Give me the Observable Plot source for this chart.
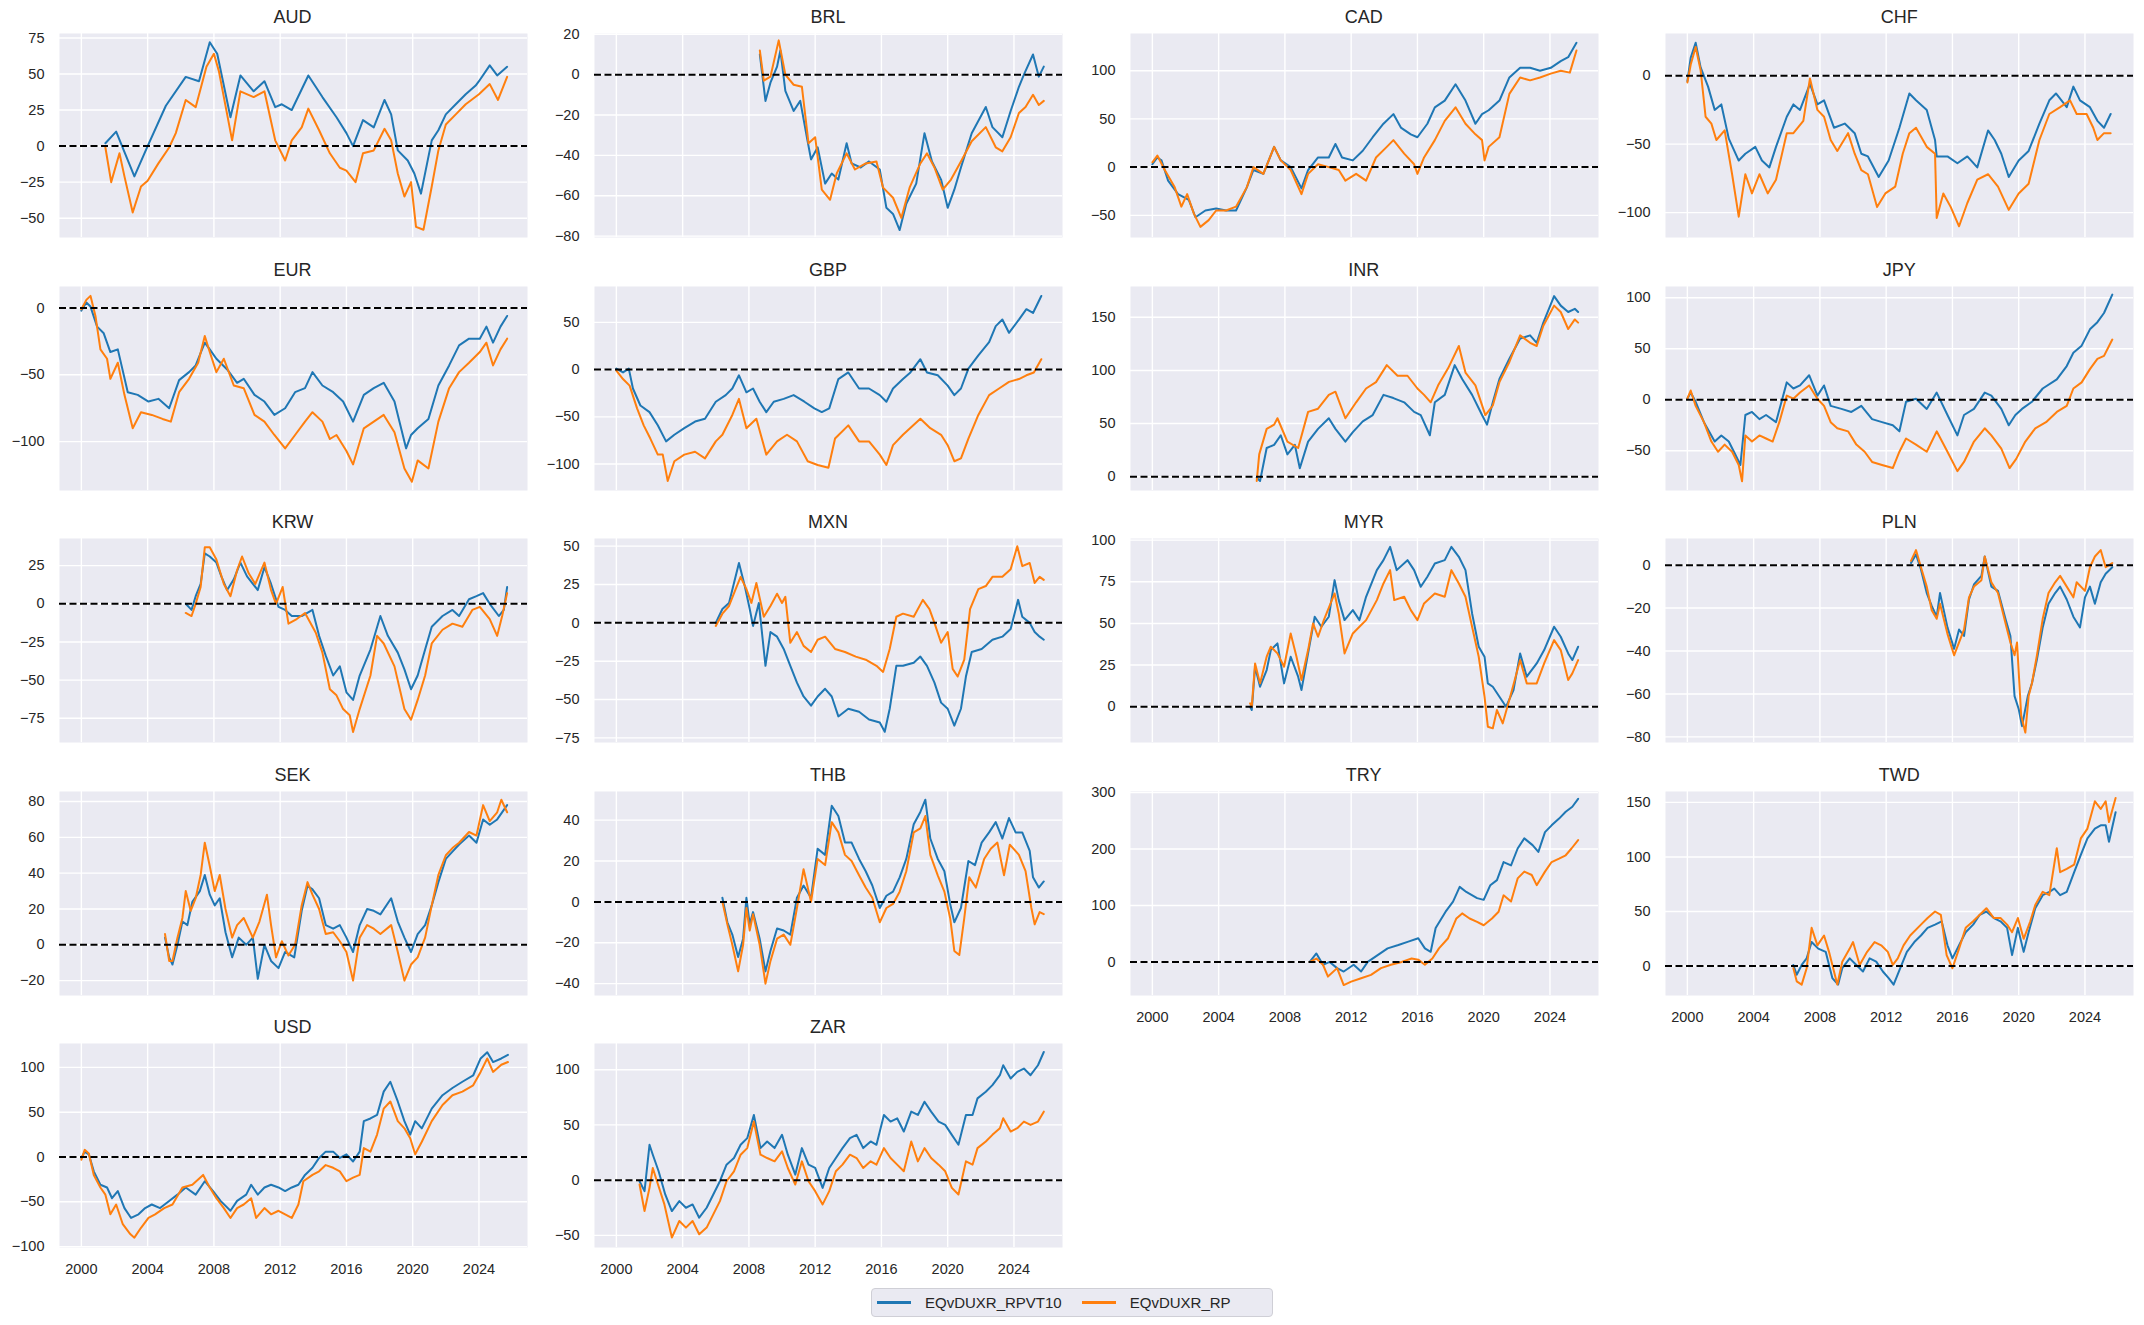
<!DOCTYPE html>
<html><head><meta charset="utf-8">
<script src="https://cdn.jsdelivr.net/npm/d3@7"></script>
<script src="https://cdn.jsdelivr.net/npm/@observablehq/plot@0.6"></script>
<style>
body{margin:0;background:#fff;font-family:"Liberation Sans",Arial,sans-serif;}
#fig{position:relative;width:2144px;height:1325px;overflow:hidden;}
.panel{position:absolute;}
.ttl{position:absolute;font-size:18px;color:#262626;text-align:center;height:22px;line-height:22px;}
#legend{position:absolute;display:flex;align-items:center;box-sizing:border-box;border:1px solid #cfcfd6;border-radius:4px;background:#EAEAF2;font-size:15px;color:#262626;}
#legend .item{display:flex;align-items:center;}
#legend .sw{display:inline-block;height:2.5px;}
</style></head><body><div id="fig"></div><script>
// ---------- data (decimal year, value) ----------
const CURRENCIES = ["AUD","BRL","CAD","CHF","EUR","GBP","INR","JPY","KRW","MXN","MYR","PLN","SEK","THB","TRY","TWD","USD","ZAR"];
const SERIES_NAMES = ["EQvDUXR_RPVT10","EQvDUXR_RP"];
const SERIES_COLORS = ["#1f77b4","#ff7f0e"];
const X_TICKS = [2000,2004,2008,2012,2016,2020,2024];
const X_DOMAIN = [1998.68, 2026.93];
const X_LABELLED = ["TRY","TWD","USD","ZAR"];

const AUD_RPVT10 = [[2001.45,2],[2002.1,10],[2003.2,-21],[2004.0,0],[2005.1,28],[2006.3,48],[2007.1,45],[2007.75,72],[2008.2,64],[2009.0,20],[2009.6,49],[2010.4,38],[2011.05,45],[2011.7,27],[2012.1,29],[2012.7,25],[2013.7,49],[2014.55,34],[2015.4,20],[2016.0,9],[2016.4,0],[2017.0,18],[2017.65,13],[2018.3,32],[2018.7,22],[2019.1,-3],[2019.7,-10],[2020.1,-19],[2020.5,-33],[2021.15,4],[2021.55,11],[2022.0,22],[2022.6,29],[2023.2,36],[2023.8,42],[2024.0,45],[2024.65,56],[2025.1,49],[2025.7,55]];
const AUD_RP = [[2001.45,-1],[2001.8,-25],[2002.3,-5],[2002.6,-21],[2003.1,-46],[2003.6,-28],[2004.0,-24],[2004.65,-12],[2005.3,-1],[2005.7,9],[2006.3,32],[2006.9,27],[2007.55,55],[2008.0,64],[2008.3,52],[2009.1,4],[2009.6,38],[2010.4,34],[2011.05,38],[2011.7,4],[2012.3,-10],[2012.7,4],[2013.3,13],[2013.7,26],[2014.35,11],[2015.0,-5],[2015.6,-15],[2016.0,-17],[2016.55,-25],[2017.0,-5],[2017.65,-3],[2018.3,12],[2018.7,4],[2019.1,-19],[2019.5,-35],[2019.9,-25],[2020.2,-56],[2020.65,-58],[2021.15,-28],[2021.55,-3],[2022.0,15],[2022.6,22],[2023.2,29],[2024.0,36],[2024.65,43],[2025.15,32],[2025.7,48]];

const BRL_RPVT10 = [[2008.66,10],[2009.0,-13],[2009.3,-4],[2009.7,4],[2009.9,12],[2010.2,-8],[2010.7,-18],[2011.1,-13],[2011.5,-31],[2011.75,-42],[2012.15,-36],[2012.6,-54],[2013.0,-49],[2013.4,-52],[2013.9,-34],[2014.2,-44],[2014.75,-46],[2015.25,-43],[2015.9,-47],[2016.3,-66],[2016.7,-69],[2017.1,-77],[2017.5,-64],[2018.1,-54],[2018.6,-29],[2019.05,-43],[2019.6,-52],[2020.0,-66],[2020.4,-57],[2020.8,-46],[2021.45,-29],[2022.3,-16],[2022.7,-26],[2023.3,-31],[2023.8,-18],[2024.3,-6],[2024.6,0],[2025.15,10],[2025.5,-1],[2025.8,4]];
const BRL_RP = [[2008.66,12],[2008.9,-3],[2009.3,-1],[2009.8,17],[2010.2,0],[2010.7,-5],[2011.2,-6],[2011.6,-34],[2012.0,-31],[2012.4,-57],[2012.9,-62],[2013.3,-49],[2013.9,-39],[2014.4,-47],[2015.05,-44],[2015.7,-43],[2016.1,-56],[2016.7,-61],[2017.2,-71],[2017.7,-56],[2018.35,-44],[2018.75,-39],[2019.2,-46],[2019.7,-57],[2020.2,-52],[2020.8,-43],[2021.45,-33],[2022.3,-26],[2022.9,-36],[2023.3,-38],[2023.8,-31],[2024.3,-19],[2024.7,-16],[2025.15,-10],[2025.5,-15],[2025.8,-13]];

const CAD_RPVT10 = [[2000.0,3],[2000.3,10],[2000.55,7],[2000.95,-14],[2001.55,-28],[2002.2,-34],[2002.6,-52],[2003.2,-45],[2003.85,-43],[2004.45,-45],[2005.05,-45],[2005.7,-21],[2006.1,-3],[2006.7,-7],[2007.35,21],[2007.75,7],[2008.35,0],[2009.0,-22],[2009.4,-3],[2010.0,10],[2010.65,10],[2011.05,24],[2011.45,10],[2012.1,7],[2012.7,17],[2013.3,31],[2013.95,45],[2014.55,55],[2015.0,41],[2015.6,34],[2016.0,31],[2016.6,45],[2017.05,62],[2017.65,69],[2018.3,86],[2018.9,69],[2019.5,45],[2019.9,55],[2020.3,59],[2020.95,69],[2021.55,93],[2022.2,103],[2022.8,103],[2023.4,100],[2024.05,103],[2024.65,110],[2025.1,114],[2025.6,129]];
const CAD_RP = [[2000.0,5],[2000.3,12],[2000.75,-3],[2001.35,-21],[2001.75,-41],[2002.1,-28],[2002.5,-48],[2002.9,-62],[2003.4,-55],[2003.85,-45],[2004.45,-45],[2005.05,-41],[2005.7,-21],[2006.1,0],[2006.7,-7],[2007.35,21],[2007.75,7],[2008.35,-3],[2009.0,-28],[2009.4,-7],[2010.0,3],[2010.65,0],[2011.25,-3],[2011.65,-14],[2012.3,-7],[2012.9,-14],[2013.5,10],[2014.15,21],[2014.55,28],[2015.2,14],[2015.8,3],[2016.0,-7],[2016.4,10],[2017.05,28],[2017.65,48],[2018.3,62],[2018.9,45],[2019.5,34],[2019.9,28],[2020.05,7],[2020.3,21],[2020.95,31],[2021.55,76],[2022.2,93],[2022.8,90],[2023.4,93],[2024.05,97],[2024.65,100],[2025.2,98],[2025.6,121]];

const CHF_RPVT10 = [[2000.0,-4],[2000.2,13],[2000.5,24],[2000.8,6],[2001.25,-8],[2001.65,-25],[2002.05,-21],[2002.5,-46],[2003.1,-62],[2003.5,-57],[2004.1,-52],[2004.5,-62],[2004.95,-67],[2005.35,-52],[2006.0,-30],[2006.4,-21],[2006.8,-25],[2007.4,-6],[2007.85,-21],[2008.25,-18],[2008.85,-38],[2009.5,-35],[2010.1,-42],[2010.5,-57],[2010.9,-59],[2011.55,-74],[2012.15,-62],[2012.8,-38],[2013.4,-13],[2013.8,-18],[2014.45,-25],[2014.95,-47],[2015.05,-59],[2015.7,-59],[2016.3,-64],[2016.9,-59],[2017.5,-67],[2018.15,-40],[2018.55,-47],[2018.95,-57],[2019.4,-74],[2020.0,-62],[2020.6,-55],[2021.25,-35],[2021.85,-18],[2022.25,-13],[2022.9,-23],[2023.3,-8],[2023.7,-18],[2024.3,-23],[2024.75,-33],[2025.15,-38],[2025.55,-28]];
const CHF_RP = [[2000.0,-5],[2000.2,8],[2000.5,21],[2000.8,4],[2001.1,-30],[2001.45,-35],[2001.75,-47],[2002.25,-40],[2002.7,-72],[2003.1,-103],[2003.5,-72],[2003.9,-86],[2004.35,-72],[2004.85,-86],[2005.35,-76],[2006.0,-42],[2006.4,-42],[2007.0,-33],[2007.4,-2],[2007.85,-25],[2008.25,-30],[2008.65,-47],[2009.05,-55],[2009.7,-42],[2010.1,-57],[2010.5,-69],[2010.9,-72],[2011.45,-96],[2011.95,-86],[2012.55,-81],[2013.0,-57],[2013.4,-42],[2013.8,-38],[2014.45,-52],[2014.95,-57],[2015.05,-104],[2015.45,-86],[2015.9,-96],[2016.4,-110],[2016.9,-93],[2017.5,-76],[2018.15,-72],[2018.75,-81],[2019.4,-98],[2020.0,-86],[2020.6,-79],[2021.25,-47],[2021.85,-28],[2022.5,-23],[2023.1,-18],[2023.5,-28],[2024.1,-28],[2024.5,-38],[2024.75,-47],[2025.15,-42],[2025.55,-42]];

const EUR_RPVT10 = [[2000.0,-2],[2000.3,4],[2000.55,1],[2000.95,-14],[2001.35,-19],[2001.75,-33],[2002.2,-31],[2002.8,-63],[2003.4,-65],[2004.05,-70],[2004.65,-68],[2005.3,-75],[2005.9,-54],[2006.5,-48],[2006.9,-43],[2007.45,-26],[2007.75,-31],[2008.15,-38],[2008.8,-46],[2009.4,-56],[2009.8,-53],[2010.45,-65],[2011.05,-70],[2011.65,-80],[2012.3,-75],[2012.9,-63],[2013.5,-60],[2013.95,-48],[2014.55,-58],[2015.2,-63],[2015.8,-70],[2016.4,-85],[2017.05,-65],[2017.65,-60],[2018.25,-56],[2018.9,-70],[2019.6,-105],[2019.9,-95],[2020.3,-90],[2020.95,-83],[2021.55,-58],[2022.2,-43],[2022.8,-28],[2023.4,-23],[2024.05,-23],[2024.45,-14],[2024.85,-26],[2025.3,-14],[2025.7,-6]];
const EUR_RP = [[2000.0,-1],[2000.3,6],[2000.55,9],[2000.85,-6],[2001.15,-31],[2001.55,-38],[2001.75,-53],[2002.2,-41],[2002.6,-65],[2003.1,-90],[2003.6,-78],[2004.25,-80],[2004.9,-83],[2005.4,-85],[2005.9,-63],[2006.5,-53],[2007.05,-41],[2007.45,-21],[2007.75,-33],[2008.15,-48],[2008.6,-38],[2009.2,-58],[2009.8,-60],[2010.45,-80],[2011.05,-85],[2011.65,-95],[2012.3,-105],[2012.9,-95],[2013.5,-85],[2013.95,-78],[2014.55,-85],[2015.0,-98],[2015.4,-95],[2016.0,-107],[2016.4,-117],[2017.05,-90],[2017.65,-85],[2018.25,-80],[2018.9,-93],[2019.5,-120],[2019.95,-130],[2020.3,-114],[2020.95,-120],[2021.55,-85],[2022.2,-60],[2022.8,-48],[2023.4,-41],[2024.05,-33],[2024.45,-26],[2024.85,-43],[2025.3,-31],[2025.7,-23]];

const GBP_RPVT10 = [[2000.0,1],[2000.4,-3],[2000.75,1],[2001.0,-20],[2001.45,-38],[2002.0,-45],[2002.5,-59],[2003.0,-76],[2003.5,-69],[2004.1,-62],[2004.75,-55],[2005.35,-52],[2006.0,-34],[2006.6,-27],[2007.0,-20],[2007.4,-6],[2007.85,-24],[2008.25,-20],[2008.65,-34],[2009.05,-45],[2009.5,-34],[2010.1,-31],[2010.7,-27],[2011.35,-34],[2011.95,-41],[2012.4,-45],[2012.85,-41],[2013.4,-10],[2014.0,-3],[2014.65,-20],[2015.25,-20],[2015.9,-27],[2016.3,-34],[2016.7,-20],[2017.3,-10],[2017.75,-3],[2018.35,11],[2018.75,-3],[2019.4,-6],[2020.0,-17],[2020.4,-27],[2020.8,-20],[2021.25,1],[2021.85,15],[2022.5,29],[2022.9,46],[2023.3,53],[2023.7,39],[2024.3,53],[2024.75,64],[2025.15,60],[2025.65,78]];
const GBP_RP = [[2000.0,-1],[2000.4,-10],[2000.8,-17],[2001.25,-41],[2001.65,-59],[2002.05,-73],[2002.5,-90],[2002.8,-90],[2003.1,-118],[2003.5,-97],[2004.1,-90],[2004.75,-87],[2005.35,-94],[2006.0,-76],[2006.4,-69],[2007.0,-48],[2007.4,-31],[2007.85,-62],[2008.45,-52],[2009.05,-90],[2009.7,-76],[2010.3,-69],[2010.9,-76],[2011.55,-97],[2012.15,-101],[2012.8,-104],[2013.2,-73],[2014.0,-59],[2014.65,-76],[2015.25,-76],[2015.9,-90],[2016.3,-101],[2016.7,-80],[2017.3,-69],[2018.35,-52],[2018.95,-62],[2019.6,-69],[2020.0,-80],[2020.4,-97],[2020.8,-94],[2021.25,-73],[2021.85,-48],[2022.5,-27],[2023.1,-20],[2023.7,-13],[2024.3,-10],[2024.75,-6],[2025.2,-3],[2025.65,11]];

const INR_RPVT10 = [[2006.3,-1],[2006.5,-4],[2006.9,27],[2007.35,30],[2007.75,39],[2008.15,21],[2008.6,30],[2008.9,8],[2009.4,33],[2010.0,45],[2010.65,55],[2011.05,45],[2011.65,33],[2012.1,42],[2012.7,52],[2013.3,58],[2013.95,77],[2014.55,74],[2015.2,70],[2015.8,61],[2016.2,58],[2016.75,39],[2017.05,70],[2017.65,77],[2018.25,105],[2018.7,92],[2019.3,77],[2019.9,58],[2020.2,49],[2020.55,70],[2020.95,92],[2021.55,111],[2022.2,130],[2022.8,133],[2023.2,126],[2023.6,145],[2024.25,170],[2024.65,161],[2025.1,155],[2025.5,158],[2025.7,155]];
const INR_RP = [[2006.3,-4],[2006.45,21],[2006.9,45],[2007.35,49],[2007.55,55],[2008.15,33],[2008.8,27],[2009.4,61],[2010.0,64],[2010.65,77],[2011.05,80],[2011.65,55],[2012.3,70],[2012.9,83],[2013.5,89],[2014.15,105],[2014.8,95],[2015.4,95],[2016.0,83],[2016.4,77],[2016.8,70],[2017.25,86],[2017.85,102],[2018.5,123],[2018.9,98],[2019.5,86],[2020.1,58],[2020.55,67],[2020.95,89],[2021.55,108],[2022.2,133],[2022.8,126],[2023.2,123],[2023.6,142],[2024.25,161],[2024.65,155],[2025.1,139],[2025.5,148],[2025.7,145]];

const JPY_RPVT10 = [[2000.0,1],[2000.2,7],[2000.5,-2],[2001.0,-22],[2001.65,-41],[2002.05,-35],[2002.5,-41],[2002.9,-54],[2003.2,-64],[2003.5,-15],[2003.9,-12],[2004.35,-19],[2004.75,-15],[2005.35,-22],[2006.0,17],[2006.4,11],[2006.8,14],[2007.35,24],[2007.85,4],[2008.25,14],[2008.65,-6],[2009.3,-9],[2009.9,-12],[2010.5,-6],[2011.15,-19],[2011.75,-22],[2012.4,-25],[2012.8,-31],[2013.2,-2],[2013.8,1],[2014.45,-9],[2015.05,7],[2015.7,-15],[2016.3,-35],[2016.7,-15],[2017.3,-9],[2017.95,7],[2018.35,4],[2018.95,-9],[2019.4,-25],[2019.8,-15],[2020.2,-9],[2020.8,-2],[2021.45,11],[2022.3,20],[2022.9,33],[2023.3,46],[2023.8,53],[2024.3,69],[2024.75,76],[2025.15,85],[2025.65,103]];
const JPY_RP = [[2000.0,1],[2000.2,9],[2000.5,-6],[2001.0,-22],[2001.45,-41],[2001.85,-51],[2002.25,-44],[2002.7,-51],[2003.1,-64],[2003.3,-80],[2003.5,-35],[2003.9,-41],[2004.35,-35],[2004.75,-38],[2005.15,-41],[2005.55,-22],[2006.0,4],[2006.4,1],[2006.8,7],[2007.35,14],[2007.85,1],[2008.25,-6],[2008.65,-22],[2009.05,-28],[2009.7,-31],[2010.2,-44],[2010.7,-51],[2011.15,-61],[2011.75,-64],[2012.4,-67],[2012.8,-51],[2013.2,-38],[2013.8,-44],[2014.45,-51],[2015.05,-31],[2015.7,-51],[2016.3,-70],[2016.7,-61],[2017.3,-41],[2017.95,-28],[2018.35,-35],[2018.95,-48],[2019.45,-67],[2019.85,-58],[2020.4,-41],[2021.0,-28],[2021.65,-22],[2022.3,-12],[2022.9,-6],[2023.3,11],[2023.8,17],[2024.3,30],[2024.75,40],[2025.15,43],[2025.65,59]];

const KRW_RPVT10 = [[2006.3,0],[2006.65,-4],[2006.9,5],[2007.2,13],[2007.45,33],[2007.75,31],[2008.15,27],[2008.45,18],[2008.8,9],[2009.2,16],[2009.6,27],[2010.0,18],[2010.65,9],[2011.05,24],[2011.45,13],[2011.9,-2],[2012.3,-4],[2012.7,-8],[2013.3,-8],[2013.95,-4],[2014.35,-21],[2014.75,-34],[2015.2,-47],[2015.6,-41],[2016.0,-58],[2016.4,-63],[2016.8,-47],[2017.45,-30],[2018.05,-8],[2018.5,-21],[2019.1,-32],[2019.5,-43],[2019.9,-56],[2020.3,-47],[2020.75,-30],[2021.15,-15],[2021.8,-8],[2022.4,-4],[2022.8,-8],[2023.4,3],[2023.85,5],[2024.25,7],[2024.65,0],[2025.2,-8],[2025.5,-4],[2025.7,11]];
const KRW_RP = [[2006.3,-6],[2006.65,-8],[2006.9,0],[2007.2,11],[2007.45,37],[2007.75,37],[2008.15,29],[2008.6,13],[2009.0,5],[2009.4,22],[2009.7,31],[2010.1,20],[2010.5,13],[2011.05,27],[2011.45,9],[2011.75,0],[2012.15,11],[2012.5,-13],[2013.0,-10],[2013.5,-6],[2014.15,-19],[2014.55,-32],[2015.0,-56],[2015.4,-60],[2015.8,-69],[2016.2,-73],[2016.4,-84],[2016.8,-69],[2017.45,-47],[2017.85,-21],[2018.25,-26],[2018.9,-41],[2019.5,-69],[2019.9,-76],[2020.3,-63],[2020.75,-47],[2021.15,-26],[2021.8,-17],[2022.4,-13],[2023.0,-15],[2023.6,-4],[2024.05,-2],[2024.65,-10],[2025.1,-21],[2025.4,-8],[2025.7,7]];

const MXN_RPVT10 = [[2006.0,0],[2006.4,9],[2006.8,13],[2007.1,26],[2007.4,39],[2007.75,24],[2008.05,9],[2008.25,-2],[2008.6,13],[2009.0,-28],[2009.3,-6],[2009.7,-9],[2010.1,-17],[2010.5,-28],[2010.9,-39],[2011.3,-48],[2011.75,-54],[2012.15,-48],[2012.6,-43],[2013.0,-48],[2013.4,-61],[2014.0,-56],[2014.65,-58],[2015.25,-63],[2015.9,-65],[2016.2,-71],[2016.5,-56],[2016.9,-28],[2017.3,-28],[2017.95,-26],[2018.35,-22],[2018.75,-28],[2019.2,-39],[2019.6,-52],[2020.0,-56],[2020.4,-67],[2020.8,-56],[2021.1,-35],[2021.45,-19],[2022.05,-17],[2022.7,-11],[2023.3,-9],[2023.8,-4],[2024.25,15],[2024.5,4],[2024.95,0],[2025.25,-6],[2025.55,-9],[2025.8,-11]];
const MXN_RP = [[2006.0,-2],[2006.4,6],[2006.8,11],[2007.2,22],[2007.5,30],[2007.85,22],[2008.15,13],[2008.45,26],[2008.9,4],[2009.3,11],[2009.7,19],[2010.0,13],[2010.2,17],[2010.5,-13],[2010.9,-6],[2011.3,-15],[2011.75,-19],[2012.15,-11],[2012.6,-9],[2013.2,-17],[2013.8,-19],[2014.45,-22],[2015.05,-24],[2015.7,-28],[2016.1,-32],[2016.5,-17],[2016.9,4],[2017.3,6],[2017.95,4],[2018.5,15],[2018.9,9],[2019.2,0],[2019.6,-13],[2020.0,-6],[2020.3,-30],[2020.6,-35],[2021.0,-24],[2021.35,9],[2021.85,22],[2022.3,24],[2022.7,30],[2023.3,30],[2023.8,35],[2024.2,50],[2024.5,37],[2024.95,39],[2025.25,26],[2025.55,30],[2025.8,28]];

const MYR_RPVT10 = [[2005.9,0],[2006.0,-2],[2006.2,24],[2006.5,12],[2006.9,22],[2007.15,34],[2007.55,38],[2007.95,14],[2008.35,30],[2008.8,18],[2009.0,10],[2009.4,32],[2009.8,54],[2010.2,48],[2010.65,54],[2011.0,76],[2011.25,64],[2011.6,52],[2012.1,58],[2012.5,52],[2012.9,66],[2013.55,82],[2013.95,88],[2014.35,96],[2014.75,82],[2015.4,88],[2015.8,82],[2016.2,72],[2016.6,78],[2017.05,86],[2017.65,88],[2018.05,96],[2018.5,90],[2018.9,82],[2019.3,56],[2019.7,36],[2020.05,30],[2020.25,14],[2020.55,12],[2020.95,6],[2021.35,0],[2021.8,10],[2022.2,32],[2022.6,18],[2023.2,26],[2023.65,34],[2024.25,48],[2024.65,42],[2025.1,32],[2025.35,28],[2025.7,36]];
const MYR_RP = [[2005.9,2],[2006.0,0],[2006.2,26],[2006.5,14],[2006.9,30],[2007.15,36],[2007.55,32],[2007.95,24],[2008.35,44],[2008.7,30],[2009.0,16],[2009.4,34],[2009.7,50],[2010.0,42],[2010.35,52],[2011.0,68],[2011.25,56],[2011.6,32],[2012.1,44],[2012.5,48],[2012.9,52],[2013.55,64],[2013.95,74],[2014.35,82],[2014.6,64],[2015.2,66],[2015.6,58],[2016.0,52],[2016.4,62],[2017.05,68],[2017.65,66],[2018.05,82],[2018.5,74],[2018.9,66],[2019.3,48],[2019.7,30],[2020.05,6],[2020.25,-12],[2020.55,-13],[2020.8,-2],[2021.15,-10],[2021.6,6],[2022.2,28],[2022.6,14],[2023.2,14],[2023.65,26],[2024.25,40],[2024.65,34],[2025.1,16],[2025.35,20],[2025.7,28]];

const PLN_RPVT10 = [[2013.5,1],[2013.8,5],[2014.1,-2],[2014.45,-13],[2014.75,-19],[2015.05,-24],[2015.25,-13],[2015.7,-29],[2016.1,-39],[2016.4,-30],[2016.7,-33],[2017.0,-16],[2017.3,-9],[2017.75,-5],[2017.95,4],[2018.35,-10],[2018.75,-12],[2019.2,-25],[2019.5,-33],[2019.75,-61],[2020.0,-67],[2020.2,-75],[2020.55,-61],[2020.8,-55],[2021.1,-44],[2021.45,-29],[2021.8,-18],[2022.2,-13],[2022.5,-10],[2022.9,-16],[2023.3,-24],[2023.7,-29],[2024.0,-15],[2024.3,-10],[2024.6,-18],[2024.95,-8],[2025.25,-4],[2025.65,-1]];
const PLN_RP = [[2013.5,2],[2013.8,7],[2014.1,-1],[2014.45,-10],[2014.75,-21],[2015.05,-25],[2015.25,-18],[2015.7,-32],[2016.1,-42],[2016.4,-36],[2016.7,-30],[2017.0,-15],[2017.3,-10],[2017.75,-7],[2017.95,4],[2018.35,-8],[2018.75,-13],[2019.2,-27],[2019.5,-36],[2019.75,-42],[2019.9,-36],[2020.15,-70],[2020.4,-78],[2020.6,-61],[2020.8,-55],[2021.1,-42],[2021.45,-25],[2021.8,-13],[2022.2,-8],[2022.5,-5],[2022.9,-10],[2023.3,-15],[2023.5,-8],[2024.0,-12],[2024.3,-1],[2024.6,4],[2024.95,7],[2025.25,-1],[2025.65,1]];

const SEK_RPVT10 = [[2005.05,4],[2005.3,-7],[2005.5,-11],[2005.8,0],[2006.1,13],[2006.4,11],[2006.7,24],[2007.15,30],[2007.45,39],[2007.75,28],[2008.05,22],[2008.35,26],[2008.7,7],[2009.1,-7],[2009.5,4],[2009.95,0],[2010.35,4],[2010.65,-19],[2011.05,0],[2011.45,-9],[2011.9,-13],[2012.3,-4],[2012.85,-7],[2013.3,19],[2013.65,33],[2013.95,31],[2014.35,26],[2014.75,11],[2015.2,9],[2015.6,11],[2016.0,4],[2016.4,-4],[2016.8,11],[2017.25,20],[2017.65,19],[2018.05,17],[2018.7,26],[2019.1,13],[2019.5,4],[2019.9,-4],[2020.3,6],[2020.75,11],[2021.15,22],[2021.55,35],[2022.0,48],[2022.4,52],[2022.8,56],[2023.4,61],[2023.85,57],[2024.25,70],[2024.65,67],[2025.1,70],[2025.7,78]];
const SEK_RP = [[2005.05,6],[2005.3,-9],[2005.5,-9],[2005.8,4],[2006.1,15],[2006.3,30],[2006.6,19],[2006.9,26],[2007.2,39],[2007.45,57],[2007.75,44],[2008.05,30],[2008.35,39],[2008.7,20],[2009.1,4],[2009.4,11],[2009.8,15],[2010.35,4],[2010.75,13],[2011.2,28],[2011.45,11],[2011.75,-7],[2012.1,2],[2012.5,-6],[2012.9,0],[2013.3,22],[2013.65,35],[2013.95,28],[2014.35,20],[2014.75,6],[2015.2,7],[2015.6,2],[2016.0,-4],[2016.4,-20],[2016.8,4],[2017.25,11],[2017.65,9],[2018.05,6],[2018.7,11],[2019.1,-4],[2019.5,-20],[2019.9,-11],[2020.3,-7],[2020.75,4],[2021.15,22],[2021.55,39],[2022.0,50],[2022.4,54],[2022.8,57],[2023.4,63],[2023.85,61],[2024.25,78],[2024.65,69],[2025.1,74],[2025.35,81],[2025.7,74]];

const THB_RPVT10 = [[2006.4,2],[2006.7,-10],[2007.0,-16],[2007.35,-27],[2007.65,-18],[2007.85,2],[2008.05,-11],[2008.25,-5],[2008.65,-18],[2009.0,-34],[2009.3,-24],[2009.7,-13],[2010.1,-14],[2010.5,-16],[2010.9,2],[2011.3,8],[2011.75,2],[2012.15,26],[2012.6,23],[2013.0,47],[2013.4,42],[2013.8,29],[2014.2,29],[2014.65,21],[2015.05,15],[2015.45,8],[2015.9,-3],[2016.3,3],[2016.7,5],[2017.1,12],[2017.5,21],[2017.95,38],[2018.35,44],[2018.65,50],[2018.95,31],[2019.4,21],[2019.8,15],[2020.15,-1],[2020.4,-10],[2020.8,-3],[2021.25,20],[2021.65,18],[2022.05,29],[2022.5,34],[2022.9,39],[2023.3,31],[2023.7,41],[2024.1,34],[2024.5,34],[2024.95,25],[2025.15,12],[2025.5,7],[2025.8,10]];
const THB_RP = [[2006.4,0],[2006.7,-11],[2007.0,-21],[2007.35,-34],[2007.65,-21],[2007.85,-3],[2008.05,-14],[2008.25,-6],[2008.65,-21],[2009.0,-40],[2009.3,-29],[2009.7,-18],[2010.1,-16],[2010.5,-21],[2010.9,-3],[2011.3,16],[2011.75,0],[2012.15,21],[2012.6,18],[2013.0,39],[2013.4,34],[2013.8,23],[2014.2,20],[2014.65,13],[2015.05,7],[2015.45,2],[2015.9,-10],[2016.3,-3],[2016.7,-1],[2017.1,5],[2017.5,15],[2017.95,34],[2018.35,36],[2018.65,42],[2018.95,23],[2019.4,13],[2019.8,5],[2020.15,-8],[2020.4,-24],[2020.7,-26],[2021.0,-8],[2021.3,12],[2021.7,7],[2022.2,21],[2022.6,26],[2023.0,29],[2023.4,13],[2023.75,28],[2024.3,23],[2024.7,15],[2025.05,-3],[2025.25,-11],[2025.55,-5],[2025.8,-6]];

const TRY_RPVT10 = [[2009.5,0],[2009.9,15],[2010.3,-5],[2010.7,0],[2011.15,-11],[2011.55,-17],[2012.15,-5],[2012.6,-17],[2013.0,0],[2013.6,12],[2014.2,24],[2014.85,30],[2015.45,36],[2016.05,42],[2016.45,24],[2016.8,18],[2017.1,60],[2017.7,89],[2018.15,107],[2018.55,133],[2018.95,124],[2019.6,113],[2020.0,110],[2020.4,136],[2020.8,145],[2021.2,177],[2021.65,171],[2022.05,201],[2022.45,219],[2022.95,207],[2023.3,195],[2023.7,230],[2024.1,242],[2024.55,254],[2024.95,266],[2025.35,275],[2025.7,289]];
const TRY_RP = [[2009.5,0],[2009.9,6],[2010.3,-5],[2010.6,-26],[2011.15,-11],[2011.55,-41],[2012.0,-35],[2012.6,-29],[2013.2,-23],[2013.8,-11],[2014.4,-5],[2015.05,0],[2015.65,6],[2016.05,4],[2016.45,-5],[2016.9,6],[2017.3,24],[2017.85,42],[2018.35,77],[2018.7,86],[2019.15,77],[2019.6,71],[2020.0,65],[2020.5,77],[2020.9,89],[2021.2,118],[2021.65,107],[2022.05,148],[2022.45,160],[2022.9,154],[2023.2,136],[2023.7,160],[2024.1,177],[2024.55,183],[2024.95,189],[2025.3,201],[2025.7,216]];

const TWD_RPVT10 = [[2006.4,1],[2006.6,-8],[2006.9,1],[2007.2,7],[2007.5,22],[2007.9,16],[2008.35,13],[2008.75,-11],[2009.1,-17],[2009.35,-2],[2009.8,7],[2010.2,1],[2010.6,-5],[2011.0,7],[2011.4,4],[2011.8,-5],[2012.15,-11],[2012.45,-17],[2012.85,-2],[2013.25,13],[2013.7,22],[2014.1,28],[2014.5,35],[2014.95,38],[2015.35,41],[2015.7,19],[2016.0,7],[2016.4,19],[2016.8,31],[2017.25,38],[2017.65,47],[2018.05,50],[2018.5,44],[2018.9,41],[2019.3,35],[2019.6,10],[2019.95,35],[2020.3,13],[2020.6,31],[2021.0,53],[2021.45,65],[2021.85,68],[2022.15,71],[2022.5,65],[2022.9,68],[2023.35,86],[2023.75,102],[2024.15,117],[2024.6,126],[2024.95,129],[2025.25,129],[2025.45,114],[2025.85,141]];
const TWD_RP = [[2006.4,-2],[2006.6,-14],[2006.9,-17],[2007.2,-2],[2007.5,35],[2007.85,19],[2008.25,28],[2008.55,13],[2009.05,-17],[2009.35,4],[2009.8,16],[2010.0,22],[2010.4,1],[2010.85,13],[2011.3,22],[2011.7,19],[2012.1,13],[2012.4,1],[2012.7,7],[2013.05,19],[2013.45,28],[2014.1,38],[2014.5,44],[2014.95,50],[2015.3,47],[2015.65,10],[2016.0,-2],[2016.4,16],[2016.8,35],[2017.25,41],[2017.65,47],[2018.05,53],[2018.5,44],[2018.9,44],[2019.3,38],[2019.6,31],[2019.95,44],[2020.3,25],[2020.7,41],[2021.0,56],[2021.45,68],[2021.85,65],[2022.3,108],[2022.5,86],[2022.9,89],[2023.35,93],[2023.75,117],[2024.15,126],[2024.6,151],[2024.95,144],[2025.25,151],[2025.45,132],[2025.85,154]];

const USD_RPVT10 = [[2000.0,-1],[2000.2,6],[2000.45,3],[2000.75,-16],[2001.15,-31],[2001.55,-34],[2001.85,-46],[2002.2,-38],[2002.6,-57],[2003.0,-68],[2003.45,-64],[2003.85,-57],[2004.25,-53],[2004.75,-57],[2005.3,-49],[2005.8,-42],[2006.3,-34],[2006.9,-42],[2007.45,-27],[2007.95,-38],[2008.4,-49],[2009.0,-60],[2009.4,-49],[2009.95,-42],[2010.25,-31],[2010.65,-42],[2011.05,-34],[2011.45,-31],[2011.9,-34],[2012.3,-38],[2012.7,-34],[2013.1,-31],[2013.5,-20],[2013.95,-12],[2014.35,-1],[2014.75,6],[2015.2,6],[2015.6,-1],[2016.0,3],[2016.4,-5],[2016.8,6],[2017.05,40],[2017.45,43],[2017.85,47],[2018.25,73],[2018.65,84],[2019.1,62],[2019.5,40],[2019.85,25],[2020.15,40],[2020.55,32],[2021.15,54],[2021.8,69],[2022.4,77],[2023.0,84],[2023.65,91],[2024.1,110],[2024.5,117],[2024.85,106],[2025.35,110],[2025.75,114]];
const USD_RP = [[2000.0,-3],[2000.2,8],[2000.45,4],[2000.75,-20],[2001.15,-34],[2001.45,-42],[2001.75,-64],[2002.1,-53],[2002.5,-75],[2002.95,-86],[2003.2,-90],[2003.6,-79],[2004.05,-68],[2004.45,-64],[2005.0,-57],[2005.5,-53],[2006.1,-34],[2006.7,-31],[2007.35,-20],[2007.75,-34],[2008.15,-46],[2008.6,-57],[2009.0,-68],[2009.4,-57],[2009.8,-53],[2010.25,-46],[2010.55,-68],[2011.05,-57],[2011.45,-64],[2011.9,-60],[2012.3,-64],[2012.7,-68],[2013.1,-53],[2013.4,-27],[2013.95,-20],[2014.35,-16],[2014.75,-9],[2015.2,-12],[2015.6,-16],[2016.0,-27],[2016.4,-23],[2016.8,-20],[2017.05,10],[2017.45,6],[2017.85,25],[2018.25,54],[2018.65,62],[2019.1,40],[2019.5,32],[2019.85,21],[2020.15,3],[2020.55,17],[2021.15,40],[2021.8,58],[2022.4,69],[2023.0,73],[2023.65,80],[2024.1,95],[2024.5,110],[2024.85,95],[2025.35,103],[2025.75,106]];

const ZAR_RPVT10 = [[2001.4,-1],[2001.7,-10],[2002.0,32],[2002.2,23],[2002.55,8],[2002.95,-13],[2003.35,-28],[2003.8,-19],[2004.2,-25],[2004.6,-22],[2005.0,-34],[2005.45,-25],[2005.85,-13],[2006.25,-1],[2006.65,14],[2007.1,20],[2007.5,32],[2007.9,38],[2008.3,59],[2008.7,29],[2009.1,35],[2009.55,29],[2010.0,41],[2010.35,23],[2010.8,5],[2011.2,29],[2011.6,14],[2012.0,11],[2012.45,-7],[2012.85,11],[2013.25,20],[2013.65,29],[2014.1,38],[2014.5,41],[2014.9,29],[2015.35,35],[2015.7,32],[2016.15,59],[2016.55,53],[2016.95,56],[2017.35,44],[2017.8,62],[2018.2,59],[2018.6,71],[2019.0,62],[2019.45,53],[2019.85,50],[2020.25,41],[2020.65,32],[2021.1,59],[2021.5,59],[2021.8,74],[2022.3,80],[2022.7,86],[2023.15,95],[2023.35,104],[2023.8,92],[2024.2,98],[2024.6,101],[2025.0,95],[2025.45,104],[2025.8,116]];
const ZAR_RP = [[2001.4,-4],[2001.7,-28],[2002.0,-7],[2002.2,11],[2002.45,-1],[2002.9,-22],[2003.35,-52],[2003.8,-37],[2004.2,-43],[2004.6,-37],[2005.0,-49],[2005.45,-43],[2005.85,-31],[2006.25,-19],[2006.65,-1],[2007.1,8],[2007.5,23],[2007.9,29],[2008.3,53],[2008.7,23],[2009.1,20],[2009.55,17],[2010.0,26],[2010.35,11],[2010.8,-4],[2011.2,17],[2011.6,-1],[2012.0,-10],[2012.45,-22],[2012.85,-10],[2013.25,8],[2013.65,14],[2014.1,23],[2014.5,20],[2014.9,11],[2015.35,17],[2015.7,14],[2016.15,29],[2016.55,20],[2016.95,14],[2017.35,8],[2017.8,35],[2018.2,17],[2018.6,29],[2019.0,20],[2019.45,14],[2019.85,8],[2020.25,-7],[2020.65,-13],[2021.1,17],[2021.5,14],[2021.8,29],[2022.3,35],[2022.7,41],[2023.15,47],[2023.35,56],[2023.8,44],[2024.2,47],[2024.6,53],[2025.0,50],[2025.45,53],[2025.8,62]];

// y tick labels per panel
const Y_TICKS = {
  AUD:[-50,-25,0,25,50,75], BRL:[-80,-60,-40,-20,0,20], CAD:[-50,0,50,100], CHF:[-100,-50,0],
  EUR:[-100,-50,0], GBP:[-100,-50,0,50], INR:[0,50,100,150], JPY:[-50,0,50,100],
  KRW:[-75,-50,-25,0,25], MXN:[-75,-50,-25,0,25,50], MYR:[0,25,50,75,100], PLN:[-80,-60,-40,-20,0],
  SEK:[-20,0,20,40,60,80], THB:[-40,-20,0,20,40], TRY:[0,100,200,300], TWD:[0,50,100,150],
  USD:[-100,-50,0,50,100], ZAR:[-50,0,50,100]
};
// y axis limits per panel
const Y_DOMAIN = {
  AUD:[-63.4,78.1], BRL:[-80.7,20.4], CAD:[-73,138.6], CHF:[-118.2,30.8], EUR:[-136.5,16], GBP:[-128,88],
  INR:[-13,179], JPY:[-89,111], KRW:[-90.9,42.8], MXN:[-78,55], MYR:[-21.5,101], PLN:[-82.6,12.4],
  SEK:[-28.3,85.6], THB:[-45.8,54], TRY:[-59.5,302], TWD:[-27,160], USD:[-101,126.7], ZAR:[-61,123.7]
};

const SERIES = {
  AUD:[AUD_RPVT10,AUD_RP], BRL:[BRL_RPVT10,BRL_RP], CAD:[CAD_RPVT10,CAD_RP], CHF:[CHF_RPVT10,CHF_RP],
  EUR:[EUR_RPVT10,EUR_RP], GBP:[GBP_RPVT10,GBP_RP], INR:[INR_RPVT10,INR_RP], JPY:[JPY_RPVT10,JPY_RP],
  KRW:[KRW_RPVT10,KRW_RP], MXN:[MXN_RPVT10,MXN_RP], MYR:[MYR_RPVT10,MYR_RP], PLN:[PLN_RPVT10,PLN_RP],
  SEK:[SEK_RPVT10,SEK_RP], THB:[THB_RPVT10,THB_RP], TRY:[TRY_RPVT10,TRY_RP], TWD:[TWD_RPVT10,TWD_RP],
  USD:[USD_RPVT10,USD_RP], ZAR:[ZAR_RPVT10,ZAR_RP]
};

// ---------- layout ----------
const PLOT_X0 = 58.5, COL_PITCH = 535.6, PLOT_W = 468;
const PLOT_Y0 = 33, ROW_PITCH = 252.6, PLOT_H = 204;
const M_LEFT = 72, M_RIGHT = 6, M_TOP = 6;
const FONT = '"Liberation Sans", Arial, sans-serif';
const fmtNum = d => d < 0 ? "\u2212" + Math.abs(d) : String(d);
const fig = document.getElementById("fig");

CURRENCIES.forEach((code, i) => {
  const col = i % 4, row = Math.floor(i / 4);
  const left = PLOT_X0 + col * COL_PITCH, top = PLOT_Y0 + row * ROW_PITCH;
  const showX = X_LABELLED.includes(code);
  const mB = showX ? 46 : 6;
  const [s1, s2] = SERIES[code];
  const d1 = s1.map(([t, v]) => ({t, v}));
  const d2 = s2.map(([t, v]) => ({t, v}));
  const marks = [
    Plot.frame({fill: "#EAEAF2", stroke: null}),
    Plot.gridX(X_TICKS, {stroke: "#ffffff", strokeOpacity: 1, strokeWidth: 1.4}),
    Plot.gridY(Y_TICKS[code], {stroke: "#ffffff", strokeOpacity: 1, strokeWidth: 1.4}),
    Plot.axisY(Y_TICKS[code], {tickSize: 0, tickPadding: 15, fontSize: 14.5, tickFormat: fmtNum, label: null}),
    Plot.line(d1, {x: "t", y: "v", stroke: SERIES_COLORS[0], strokeWidth: 2}),
    Plot.line(d2, {x: "t", y: "v", stroke: SERIES_COLORS[1], strokeWidth: 2}),
    Plot.ruleY([0], {stroke: "#000", strokeWidth: 2, strokeDasharray: "7,3.5"})
  ];
  if (showX) marks.push(Plot.axisX(X_TICKS, {tickSize: 0, tickPadding: 16, fontSize: 14.5, tickFormat: d => String(d), label: null}));
  const svg = Plot.plot({
    width: PLOT_W + M_LEFT + M_RIGHT,
    height: PLOT_H + M_TOP + mB,
    marginLeft: M_LEFT, marginRight: M_RIGHT, marginTop: M_TOP, marginBottom: mB,
    x: {domain: X_DOMAIN, axis: null, label: null},
    y: {domain: Y_DOMAIN[code], axis: null, label: null},
    style: {fontFamily: FONT, fontSize: "14.5px", color: "#262626", background: "transparent", overflow: "visible"},
    marks
  });
  svg.classList.add("panel");
  svg.style.left = (left - M_LEFT) + "px";
  svg.style.top = (top - M_TOP) + "px";
  fig.appendChild(svg);

  const t = document.createElement("div");
  t.className = "ttl";
  t.textContent = code;
  t.style.left = left + "px";
  t.style.width = PLOT_W + "px";
  t.style.top = (top - 27) + "px";
  fig.appendChild(t);
});

// legend
const leg = document.createElement("div");
leg.id = "legend";
leg.style.left = "871px"; leg.style.top = "1288px"; leg.style.width = "402px"; leg.style.height = "29px";
leg.style.paddingLeft = "5px";
SERIES_NAMES.forEach((name, k) => {
  const it = document.createElement("span");
  it.className = "item";
  it.style.marginRight = k === 0 ? "20px" : "0";
  const sw = document.createElement("span");
  sw.className = "sw"; sw.style.width = "34px"; sw.style.background = SERIES_COLORS[k]; sw.style.marginRight = "14px";
  const tx = document.createElement("span"); tx.textContent = name;
  it.appendChild(sw); it.appendChild(tx);
  leg.appendChild(it);
});
fig.appendChild(leg);
</script></body></html>
